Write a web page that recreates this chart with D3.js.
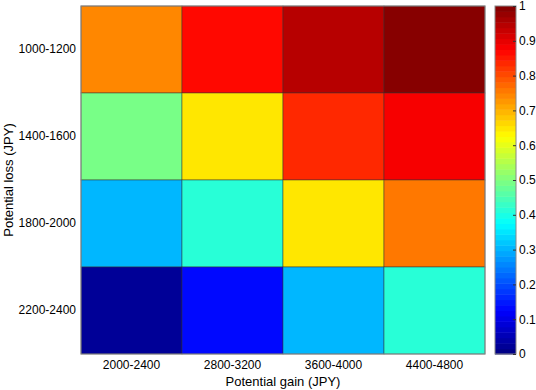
<!DOCTYPE html>
<html><head><meta charset="utf-8">
<script src="https://cdn.jsdelivr.net/npm/d3@7"></script>
<style>body{margin:0;background:#fff}svg{display:block;font-family:"Liberation Sans",Arial,sans-serif}</style>
</head><body>
<svg id="c" width="536" height="390"></svg>
<script>
const gainLabels = ["2000-2400","2800-3200","3600-4000","4400-4800"];
const lossLabels = ["1000-1200","1400-1600","1800-2000","2200-2400"];
const row1000 = [0.74, 0.86, 0.95, 0.985];
const row1400 = [0.49, 0.655, 0.84, 0.89];
const row1800 = [0.31, 0.42, 0.655, 0.75];
const row2200 = [0.025, 0.14, 0.31, 0.41];
const values = [row1000, row1400, row1800, row2200];
const cbTicks = [0,0.1,0.2,0.3,0.4,0.5,0.6,0.7,0.8,0.9,1];

const cells = [];
values.forEach((row,i)=>row.forEach((v,j)=>cells.push({loss:lossLabels[i], gain:gainLabels[j], v})));

function jet(v){
  const n=64; const k=Math.min(n-1,Math.floor(v*n)); const t=(k+0.5)/n;
  const c=x=>Math.max(0,Math.min(1,x));
  const r=c(1.5-Math.abs(4*t-3)), g=c(1.5-Math.abs(4*t-2)), b=c(1.5-Math.abs(4*t-1));
  return d3.rgb(r*255,g*255,b*255).toString();
}

const svg=d3.select("#c");
const L=81,R=485,T=6,B=354;
const x=d3.scaleBand().domain(gainLabels).range([L,R]);
const y=d3.scaleBand().domain(lossLabels).range([T,B]);

svg.append("g").selectAll("rect").data(cells).join("rect")
  .attr("x",d=>x(d.gain)).attr("y",d=>y(d.loss))
  .attr("width",x.bandwidth()).attr("height",y.bandwidth())
  .attr("fill",d=>jet(d.v)).attr("stroke","#333").attr("stroke-opacity",0.6).attr("stroke-width",0.8);

svg.append("rect").attr("x",L).attr("y",T).attr("width",R-L).attr("height",B-T)
  .attr("fill","none").attr("stroke","#888").attr("stroke-width",1);

const xa=svg.append("g").attr("transform",`translate(0,${B})`).call(d3.axisBottom(x).tickSize(0).tickPadding(6));
xa.select(".domain").remove();
xa.selectAll("text").attr("font-size",12).attr("fill","#000").attr("font-family","Liberation Sans, Arial, sans-serif");
const ya=svg.append("g").attr("transform",`translate(${L},0)`).call(d3.axisLeft(y).tickSize(0).tickPadding(5));
ya.select(".domain").remove();
ya.selectAll("text").attr("font-size",12).attr("fill","#000").attr("font-family","Liberation Sans, Arial, sans-serif");

svg.append("text").attr("x",(L+R)/2).attr("y",386).attr("text-anchor","middle").attr("font-size",13).text("Potential gain (JPY)");
svg.append("text").attr("transform",`translate(13,${(T+B)/2}) rotate(-90)`).attr("text-anchor","middle").attr("font-size",13).text("Potential loss (JPY)");

// colorbar
const cbL=495,cbR=516;
const cy=d3.scaleLinear().domain([0,1]).range([B,T]);
const levels=d3.range(64).map(k=>k/64);
svg.append("g").selectAll("rect").data(levels).join("rect")
  .attr("x",cbL).attr("width",cbR-cbL)
  .attr("y",d=>cy(d+1/64)).attr("height",cy(0)-cy(1/64)+0.5)
  .attr("fill",d=>jet(d+0.5/64));
svg.append("rect").attr("x",cbL).attr("y",T).attr("width",cbR-cbL).attr("height",B-T)
  .attr("fill","none").attr("stroke","#888").attr("stroke-width",1);
const ca=svg.append("g").attr("transform",`translate(${cbR},0)`).call(d3.axisRight(cy).tickValues(cbTicks).tickFormat(d3.format("")).tickSize(-3).tickPadding(3));
ca.select(".domain").remove();
ca.selectAll("line").attr("stroke","#333");
ca.selectAll("text").attr("font-size",12).attr("fill","#000").attr("font-family","Liberation Sans, Arial, sans-serif");
</script>
</body></html>
